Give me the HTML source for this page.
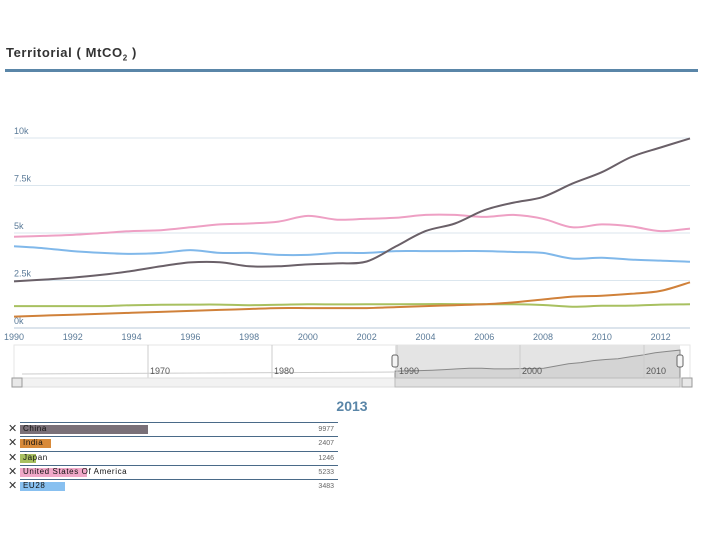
<!DOCTYPE html>
<html><head><meta charset="utf-8"><style>
body{margin:0;width:720px;height:540px;background:#fff;font-family:"Liberation Sans",sans-serif;position:relative;overflow:hidden}
.t{position:absolute}
</style></head><body>
<div class="t" style="left:6px;top:45px;font-size:13px;font-weight:bold;color:#333;letter-spacing:0.6px">Territorial ( MtCO<sub style="font-size:8px">2</sub> )</div>
<div class="t" style="left:5px;top:69px;width:693px;height:3px;background:#5a86a8"></div>
<svg id="chart" class="t" style="left:0;top:0" width="720" height="540"></svg>
<div class="t" style="left:320px;top:398px;width:64px;text-align:center;font-size:14px;font-weight:bold;color:#5a86a8">2013</div>
<div id="table"></div>
<script>
const years=[1990,1991,1992,1993,1994,1995,1996,1997,1998,1999,2000,2001,2002,2003,2004,2005,2006,2007,2008,2009,2010,2011,2012,2013];
const china=[2450,2550,2650,2800,3000,3250,3450,3460,3250,3250,3350,3400,3500,4300,5100,5500,6200,6600,6900,7600,8200,9000,9500,9977];
const usa=[4800,4850,4900,5000,5100,5150,5300,5450,5500,5600,5900,5700,5750,5800,5950,5950,5850,5950,5750,5300,5450,5350,5100,5233];
const eu28=[4300,4200,4050,3950,3900,3950,4100,3950,3950,3850,3850,3950,3950,4050,4050,4050,4050,4000,3950,3650,3700,3600,3550,3483];
const india=[600,650,700,750,800,850,900,950,1000,1050,1050,1050,1050,1100,1150,1200,1250,1350,1500,1650,1700,1800,1950,2407];
const japan=[1150,1150,1150,1150,1200,1220,1230,1230,1200,1220,1250,1240,1250,1250,1260,1260,1250,1250,1210,1120,1170,1180,1230,1246];
const yTicks=[0,2500,5000,7500,10000];
const yTickLabels=["0k","2.5k","5k","7.5k","10k"];
const xTicks=[1990,1992,1994,1996,1998,2000,2002,2004,2006,2008,2010,2012];
const names=["China","India","Japan","United States Of America","EU28"];
const latest=[9977,2407,1246,5233,3483];
const colors=["#7a7078","#d88a3a","#a8c060","#f0a8c8","#88c0f0"];
const lineColors=["#6a6068","#d0813a","#a8c060","#eea0c4","#80b8ea"];

const NS="http://www.w3.org/2000/svg";
const svg=document.getElementById('chart');
const X=y=>14+(y-1990)*(676/23);
const Y=v=>328-v*0.019;
function mk(t,a,p){const e=document.createElementNS(NS,t);for(const k in a)e.setAttribute(k,a[k]);(p||svg).appendChild(e);return e;}
function path(xs,vs){
  const p=xs.map((x,i)=>[X(x),Y(vs[i])]);
  let d='M'+p[0][0].toFixed(1)+' '+p[0][1].toFixed(1);
  for(let i=0;i<p.length-1;i++){
    const p0=p[Math.max(0,i-1)],p1=p[i],p2=p[i+1],p3=p[Math.min(p.length-1,i+2)];
    const c1=[p1[0]+(p2[0]-p0[0])/6,p1[1]+(p2[1]-p0[1])/6];
    const c2=[p2[0]-(p3[0]-p1[0])/6,p2[1]-(p3[1]-p1[1])/6];
    d+=` C${c1[0].toFixed(1)} ${c1[1].toFixed(1)} ${c2[0].toFixed(1)} ${c2[1].toFixed(1)} ${p2[0].toFixed(1)} ${p2[1].toFixed(1)}`;
  }
  return d;
}
yTicks.forEach((v,i)=>{
  const g=mk('line',{x1:14,x2:690,y1:Y(v),y2:Y(v),stroke:i?'#dbe6ee':'#b8c8d8','stroke-width':1});
  
  
  const t=mk('text',{x:14,y:Y(v)-4,'font-size':9,fill:'#5a7a98'});t.textContent=yTickLabels[i];
  
  
});
xTicks.forEach(y=>{
  const t=mk('text',{x:X(y),y:340,'font-size':9,fill:'#5a7a98','text-anchor':'middle'});t.textContent=y;
  
  
});
const series=[china,india,japan,usa,eu28];
[3,4,2,1,0].forEach(i=>{
  const p=mk('path',{d:path(years,series[i]),fill:'none',stroke:lineColors[i],'stroke-width':2,'stroke-linejoin':'round'});
  
  
});
// navigator
const nav=mk('rect',{x:14,y:345,width:676,height:33,fill:'#fff',stroke:'#e6e6e6'});


mk('rect',{x:395,y:345,width:285,height:33,fill:'#e4e4e4'});
const NX=y=>395+(y-1990)*(285/23);
const NY=v=>378-v*0.0028;
const na=mk('path',{d:'M'+NX(1990)+' 378 '+years.map((y,i)=>'L'+NX(y).toFixed(1)+' '+NY(china[i]).toFixed(1)).join(' ')+' L'+NX(2013)+' 378Z',fill:'#d4d4d4',stroke:'#888','stroke-width':1});


mk('path',{d:'M22 374 L395 372',stroke:'#ccc',fill:'none'});
[[148,'1970'],[272,'1980'],[397,'1990'],[520,'2000'],[644,'2010']].forEach(([x,l])=>{
  mk('line',{x1:x,x2:x,y1:345,y2:378,stroke:'#ccc'});
  const t=mk('text',{x:x+2,y:374,'font-size':9,fill:'#555'});t.textContent=l;
  
  
});
[395,680].forEach(x=>{
  const h=mk('rect',{x:x-3,y:355,width:6,height:12,rx:2,fill:'#f4f4f4',stroke:'#666'});
  
  
});
const sb=mk('rect',{x:12,y:378,width:680,height:9,fill:'#f2f2f2',stroke:'#ddd'});


const th=mk('rect',{x:395,y:378,width:285,height:9,fill:'#e0e0e0',stroke:'#bbb'});


[12,682].forEach(x=>{
  const b=mk('rect',{x:x,y:378,width:10,height:9,fill:'#e8e8e8',stroke:'#999'});
  
  
});
// table
const tb=document.getElementById('table');
names.forEach((n,i)=>{
  const top=422+i*14.3;
  const row=document.createElement('div');
  
  
  row.style.cssText=`position:absolute;left:20px;top:${top}px;width:318px;height:13px;border-top:1px solid #4a6a88;`;
  const bar=document.createElement('div');
  
  
  bar.style.cssText=`position:absolute;left:0;top:2px;height:9px;width:${latest[i]/9977*128}px;background:${colors[i]}`;
  row.appendChild(bar);
  const lab=document.createElement('div');
  
  
  lab.style.cssText='position:absolute;left:3px;top:1px;font-size:8px;letter-spacing:0.6px;color:#111';
  lab.textContent=n;row.appendChild(lab);
  const val=document.createElement('div');
  
  
  val.style.cssText='position:absolute;right:4px;top:3px;font-size:7px;color:#666';
  val.textContent=latest[i];row.appendChild(val);
  tb.appendChild(row);
  const x=document.createElement('div');
  
  
  x.style.cssText=`position:absolute;left:8px;top:${top}px;font-size:11px;color:#333`;
  x.textContent='✕';tb.appendChild(x);
});
</script>
</body></html>
